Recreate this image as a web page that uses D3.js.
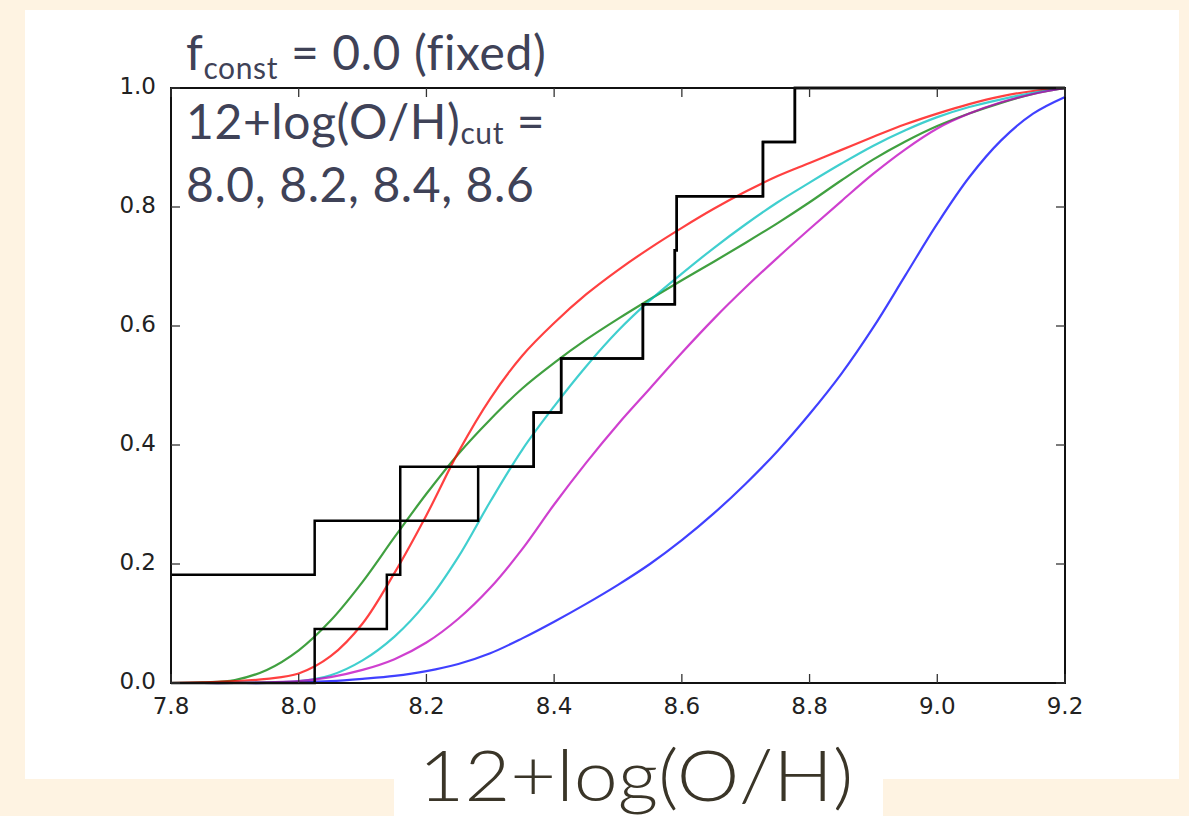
<!DOCTYPE html>
<meta charset="utf-8">
<style>
  body { margin: 0; background: #fef3e2; }
  svg { display: block; }
  .tick-label { font-family: 'DejaVu Sans', sans-serif; font-size: 23px; fill: #222; }
  .note { font-family: Lato, 'Noto Sans', sans-serif; fill: #3f4257; font-variant-ligatures: none; letter-spacing: 0.6px; }
</style>
<script src="https://d3js.org/d3.v7.min.js"></script>
<body>
<div id="chart"></div>
<script>
// 曲线的横坐标网格
const xGrid = [7.80, 7.85, 7.90, 7.95, 8.00, 8.05, 8.10, 8.15, 8.20, 8.25, 8.30, 8.35, 8.40, 8.45,
  8.50, 8.55, 8.60, 8.65, 8.70, 8.75, 8.80, 8.85, 8.90, 8.95, 9.00, 9.05, 9.10, 9.15, 9.20];

// 各模型的累积分布
const blueCdf = [0.000, 0.000, 0.000, 0.000, 0.001, 0.003, 0.007, 0.012, 0.020, 0.032, 0.050, 0.075, 0.103, 0.133,
  0.165, 0.200, 0.240, 0.285, 0.335, 0.390, 0.452, 0.520, 0.598, 0.685, 0.772, 0.850, 0.912, 0.957, 0.985];
const greenCdf = [0.000, 0.001, 0.005, 0.022, 0.055, 0.105, 0.170, 0.245, 0.318, 0.385, 0.443, 0.495, 0.538, 0.577,
  0.612, 0.645, 0.677, 0.708, 0.740, 0.773, 0.808, 0.845, 0.880, 0.910, 0.936, 0.957, 0.975, 0.990, 1.000];
const redCdf = [0.000, 0.001, 0.003, 0.007, 0.016, 0.045, 0.100, 0.185, 0.282, 0.388, 0.478, 0.550, 0.605, 0.653,
  0.694, 0.731, 0.765, 0.797, 0.826, 0.852, 0.874, 0.896, 0.918, 0.939, 0.957, 0.973, 0.986, 0.995, 1.000];
const cyanCdf = [0.000, 0.000, 0.000, 0.001, 0.003, 0.013, 0.038, 0.078, 0.135, 0.212, 0.305, 0.392, 0.465, 0.532,
  0.592, 0.643, 0.688, 0.731, 0.771, 0.808, 0.841, 0.873, 0.903, 0.929, 0.951, 0.968, 0.981, 0.992, 1.000];
const magentaCdf = [0.000, 0.000, 0.000, 0.001, 0.003, 0.010, 0.022, 0.040, 0.068, 0.108, 0.160, 0.225, 0.300, 0.370,
  0.435, 0.495, 0.555, 0.612, 0.665, 0.715, 0.763, 0.810, 0.856, 0.897, 0.932, 0.957, 0.976, 0.990, 1.000];

// 观测样本（阶梯状经验分布）
const sampleA = [8.025, 8.138, 8.159, 8.159, 8.368, 8.411, 8.539, 8.589, 8.592, 8.727, 8.777];
const sampleB = [7.70, 7.75, 8.025, 8.281, 8.368, 8.411, 8.539, 8.589, 8.592, 8.727, 8.777];

const xTicks = [7.8, 8.0, 8.2, 8.4, 8.6, 8.8, 9.0, 9.2];
const yTicks = [0.0, 0.2, 0.4, 0.6, 0.8, 1.0];

const series = [
  {name: "b", values: blueCdf, color: "#0000ff"},
  {name: "g", values: greenCdf, color: "#008000"},
  {name: "r", values: redCdf, color: "#ff0000"},
  {name: "c", values: cyanCdf, color: "#00bfbf"},
  {name: "m", values: magentaCdf, color: "#bf00bf"}
];

const W = 1189, H = 816;
const svg = d3.select("#chart").append("svg").attr("width", W).attr("height", H);

// 背景：米色底 + 白色面板
svg.append("rect").attr("width", W).attr("height", H).attr("fill", "#fef3e2");
svg.append("rect").attr("x", 25).attr("y", 10).attr("width", 1154).attr("height", 769).attr("fill", "#fff");
svg.append("rect").attr("x", 394).attr("y", 779).attr("width", 489).attr("height", 37).attr("fill", "#fff");

const plot = {left: 171, right: 1065, top: 88, bottom: 683};
const x = d3.scaleLinear().domain([7.8, 9.2]).range([plot.left, plot.right]);
const y = d3.scaleLinear().domain([0, 1]).range([plot.bottom, plot.top]);

svg.append("clipPath").attr("id", "clip")
  .append("rect").attr("x", plot.left).attr("y", plot.top - 2)
  .attr("width", plot.right - plot.left).attr("height", plot.bottom - plot.top + 4);

const g = svg.append("g").attr("clip-path", "url(#clip)");

const line = d3.line().curve(d3.curveCatmullRom.alpha(0.5)).x(d => x(d[0])).y(d => y(d[1]));

g.selectAll("path.model")
  .data(series)
  .join("path")
  .attr("class", "model")
  .attr("fill", "none")
  .attr("stroke", d => d.color)
  .attr("stroke-opacity", 0.75)
  .attr("stroke-width", 2.2)
  .attr("d", d => line(xGrid.map((v, i) => [v, d.values[i]])));

// 经验分布阶梯
function ecdf(sample) {
  const n = sample.length;
  const pts = [[7.6, 0]];
  sample.forEach((v, i) => pts.push([v, (i + 1) / n]));
  pts.push([9.2, 1]);
  return pts;
}
const stepLine = d3.line().curve(d3.curveStepAfter).x(d => x(d[0])).y(d => y(d[1]));

g.selectAll("path.step")
  .data([sampleA, sampleB])
  .join("path")
  .attr("class", "step")
  .attr("fill", "none")
  .attr("stroke", "#000")
  .attr("stroke-width", 2.5)
  .attr("d", d => stepLine(ecdf(d)));

// 坐标框
svg.append("rect")
  .attr("x", plot.left).attr("y", plot.top)
  .attr("width", plot.right - plot.left).attr("height", plot.bottom - plot.top)
  .attr("fill", "none").attr("stroke", "#111").attr("stroke-width", 2);

// 刻度（朝内，四边）
const tl = 9;
const axes = svg.append("g").attr("stroke", "#333").attr("stroke-width", 1.3);
xTicks.forEach(t => {
  axes.append("line").attr("x1", x(t)).attr("x2", x(t)).attr("y1", plot.bottom).attr("y2", plot.bottom - tl);
  axes.append("line").attr("x1", x(t)).attr("x2", x(t)).attr("y1", plot.top).attr("y2", plot.top + tl);
});
yTicks.forEach(t => {
  axes.append("line").attr("x1", plot.left).attr("x2", plot.left + tl).attr("y1", y(t)).attr("y2", y(t));
  axes.append("line").attr("x1", plot.right).attr("x2", plot.right - tl).attr("y1", y(t)).attr("y2", y(t));
});

svg.selectAll("text.xlab")
  .data(xTicks)
  .join("text")
  .attr("class", "tick-label")
  .attr("x", d => x(d))
  .attr("y", plot.bottom + 31)
  .attr("text-anchor", "middle")
  .text(d => d.toFixed(1));

svg.selectAll("text.ylab")
  .data(yTicks)
  .join("text")
  .attr("class", "tick-label")
  .attr("x", plot.left - 15)
  .attr("y", d => y(d) + 6)
  .attr("text-anchor", "end")
  .text(d => d.toFixed(1));

// 注释文字
const t1 = svg.append("text").attr("class", "note").attr("x", 186).attr("y", 70).style("font-size", "48px");
t1.append("tspan").text("f");
t1.append("tspan").attr("dy", 9).style("font-size", "30px").text("const");
t1.append("tspan").attr("dy", -9).text(" = 0.0 (fixed)");

const t2 = svg.append("text").attr("class", "note").attr("x", 186).attr("y", 139).style("font-size", "48px");
t2.append("tspan").text("12+log(O/H)");
t2.append("tspan").attr("dy", 5).style("font-size", "30px").text("cut");
t2.append("tspan").attr("dy", -5).text(" =");

svg.append("text").attr("class", "note").attr("x", 186).attr("y", 202)
  .style("font-size", "48px").text("8.0, 8.2, 8.4, 8.6");

// 横轴标题
svg.append("text")
  .attr("x", 636).attr("y", 801)
  .attr("text-anchor", "middle")
  .attr("textLength", 435)
  .attr("lengthAdjust", "spacingAndGlyphs")
  .style("font-family", "Lato, 'Noto Sans', sans-serif")
  .style("font-weight", 300)
  .style("font-size", "70px")
  .style("fill", "#3a3528")
  .text("12+log(O/H)");
</script>
</body>
